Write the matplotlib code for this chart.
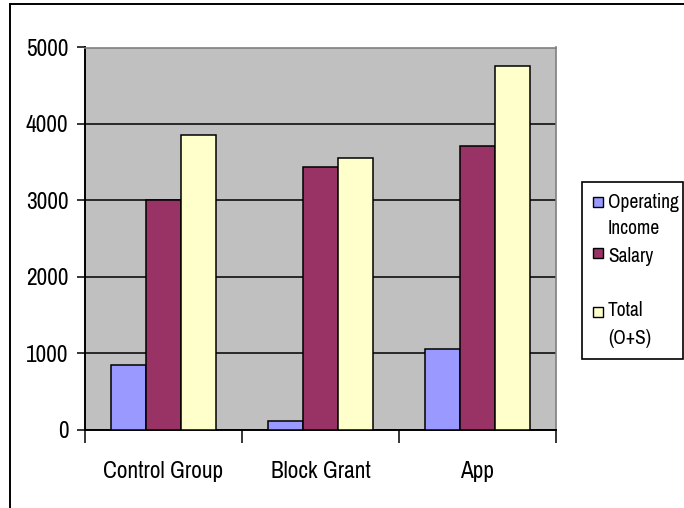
import matplotlib
matplotlib.use("Agg")
import matplotlib.pyplot as plt
import numpy as np
from matplotlib.patches import Rectangle
from matplotlib.lines import Line2D

categories = ["Control Group", "Block Grant", "App"]
operating_income = [850, 110, 1060]
salary = [3000, 3430, 3715]
total = [3860, 3550, 4760]
series_names = ["Operating\nIncome", "Salary", "Total\n(O+S)"]
colors = ["#9999FF", "#993366", "#FFFFCC"]
yticks = [0, 1000, 2000, 3000, 4000, 5000]

plt.rcParams['font.family'] = ['Archivo Narrow', 'Roboto Condensed', 'Liberation Sans', 'DejaVu Sans']

W, H = 684, 508
fig = plt.figure(figsize=(W / 100, H / 100), dpi=100)
ax = fig.add_axes([85 / W, 1 - 429.5 / H, (556 - 85) / W, (429.5 - 47.5) / H])
ax.set_facecolor("#C0C0C0")

x = np.arange(len(categories))
bw = 0.225
for i, (vals, c) in enumerate(zip([operating_income, salary, total], colors)):
    ax.bar(x + (i - 1) * bw, vals, width=bw, color=c, edgecolor="black",
           linewidth=1.1, zorder=3)

ax.set_xlim(-0.5, len(categories) - 0.5)
ax.set_ylim(0, 5000)
ax.set_yticks(yticks)
ax.yaxis.grid(True, color="black", linewidth=1.1, zorder=1)
ax.set_axisbelow(True)

ax.set_xticks(np.arange(len(categories) + 1) - 0.5)
ax.set_xticklabels([])
ax.set_xticks(x, minor=True)
ax.set_xticklabels(categories, minor=True)
ax.tick_params(axis="x", which="major", length=9, width=1.1, direction="out")
ax.tick_params(axis="x", which="minor", length=0, pad=23, labelsize=16.8)
ax.tick_params(axis="y", length=6, width=1.1, direction="out", pad=6, labelsize=16.8)

for s in ["top", "right"]:
    ax.spines[s].set_color("#808080")
    ax.spines[s].set_linewidth(1.2)
for s in ["left", "bottom"]:
    ax.spines[s].set_color("black")
    ax.spines[s].set_linewidth(1.4)

# outer chart border (top and left visible)
fig.add_artist(Line2D([10 / W, 1.0], [1 - 4 / H, 1 - 4 / H], color="black", linewidth=1.4))
fig.add_artist(Line2D([10 / W, 10 / W], [0, 1 - 4 / H], color="black", linewidth=1.4))

# legend box
lx0, lx1, ly0, ly1 = 582, 683, 182, 359
fig.add_artist(Rectangle((lx0 / W, 1 - ly1 / H), (lx1 - lx0) / W, (ly1 - ly0) / H,
                         facecolor="white", edgecolor="black", linewidth=1.2,
                         transform=fig.transFigure))
line_y = [[202, 229], [256], [311, 338]]
marker_y = [202, 253, 312]
for name, c, ys, my in zip(series_names, colors, line_y, marker_y):
    fig.add_artist(Rectangle((593 / W, 1 - (my + 5) / H), 10 / W, 10 / H,
                             facecolor=c, edgecolor="black", linewidth=1.0,
                             transform=fig.transFigure))
    for txt, yy in zip(name.split("\n"), ys):
        fig.text(608 / W, 1 - yy / H, txt, fontsize=14, va="center", ha="left")

fig.savefig("out.png", dpi=100)
